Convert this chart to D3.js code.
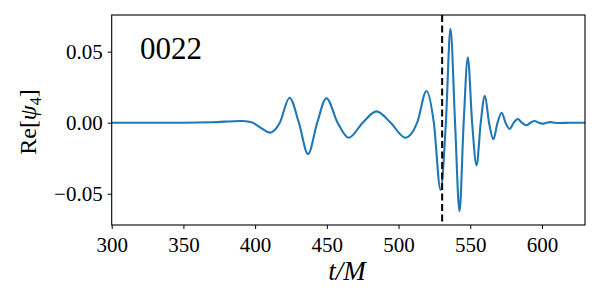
<!DOCTYPE html>
<html><head><meta charset="utf-8">
<script src="https://cdn.jsdelivr.net/npm/d3@7"></script>
<style>body{margin:0;background:#fff;} svg{display:block;}</style>
</head><body>
<svg id="c" width="600" height="300"></svg>
<script>
const timeValues = [300,350,370,390,397,403,410.5,417.2,424,430.5,436.9,443.3,449.7,457.5,465.2,475,484.6,494.5,504.8,513,519.5,524.6,529.3,533,536.2,539.4,542.5,545.4,548.3,551.3,554.4,557.3,560.2,563.1,566.1,569,571.9,574.6,577.4,580.3,583.2,586,589.1,592,594.9,597.6,600.4,603,606,609,612,620,630];
const psiValues  = [0,0,0.0003,0.0012,0.0005,-0.003,-0.007,0,0.0176,0,-0.022,0,0.0172,0,-0.0106,0,0.008,0,-0.0106,0,0.0223,0,-0.0474,0,0.066,0,-0.0622,0,0.046,0,-0.030,0,0.019,0,-0.0117,0,0.007,0,-0.0044,0,0.0026,0,-0.0018,0,0.0012,0,-0.0007,0,0.0004,0,-0.0002,0,0];
const xTicks = [300,350,400,450,500,550,600];
const yTicks = [-0.05,0,0.05];
const yTickLabels = ["\u22120.05","0.00","0.05"];
const mergerTime = 530.4;
const label = "0022";

const svg = d3.select("#c");
const L=111.7, R=585, T=15, B=225;
const x = d3.scaleLinear().domain([300,630]).range([L,R]);
const y = d3.scaleLinear().domain([-0.072,0.0758]).range([B,T]);
const serif = "'Liberation Serif','DejaVu Serif',serif";

const data = timeValues.map((t,i)=>[t,psiValues[i]]);
svg.append("path").datum(data)
  .attr("fill","none").attr("stroke","#1f77b4").attr("stroke-width",2.1)
  .attr("d", d3.line().x(d=>x(d[0])).y(d=>y(d[1])).curve(d3.curveMonotoneX));

svg.append("line").attr("x1",x(mergerTime)).attr("x2",x(mergerTime))
  .attr("y1",T).attr("y2",B).attr("stroke","#000").attr("stroke-width",2)
  .attr("stroke-dasharray","7,3.5");

svg.append("rect").attr("x",L).attr("y",T).attr("width",R-L).attr("height",B-T)
  .attr("fill","none").attr("stroke","#000").attr("stroke-width",1.1);

const xa = svg.append("g").attr("transform",`translate(0,${B})`)
  .call(d3.axisBottom(x).tickValues(xTicks).tickFormat(d3.format("d")).tickSize(4).tickPadding(5));
const ya = svg.append("g").attr("transform",`translate(${L},0)`)
  .call(d3.axisLeft(y).tickValues(yTicks).tickFormat((d,i)=>yTickLabels[i]).tickSize(4).tickPadding(5));
[xa,ya].forEach(a=>{
  a.select(".domain").remove();
  a.selectAll("line").attr("stroke","#000").attr("stroke-width",1);
  a.selectAll("text").attr("font-family",serif).attr("font-size",21).attr("fill","#000");
});
xa.selectAll("text").attr("dy","0.85em");

svg.append("text").attr("x",140).attr("y",59).attr("font-family",serif)
  .attr("font-size",31).text(label);

svg.append("text").attr("x",347).attr("y",280).attr("text-anchor","middle")
  .attr("font-family",serif).attr("font-size",27).attr("font-style","italic").text("t/M");

svg.append("text").attr("transform","translate(36,122) rotate(-90)").attr("text-anchor","middle")
  .attr("font-family",serif).attr("font-size",24)
  .html('Re[<tspan font-style="italic">ψ</tspan><tspan font-size="16" dy="5">4</tspan><tspan dy="-5">]</tspan>');
</script>
</body></html>
